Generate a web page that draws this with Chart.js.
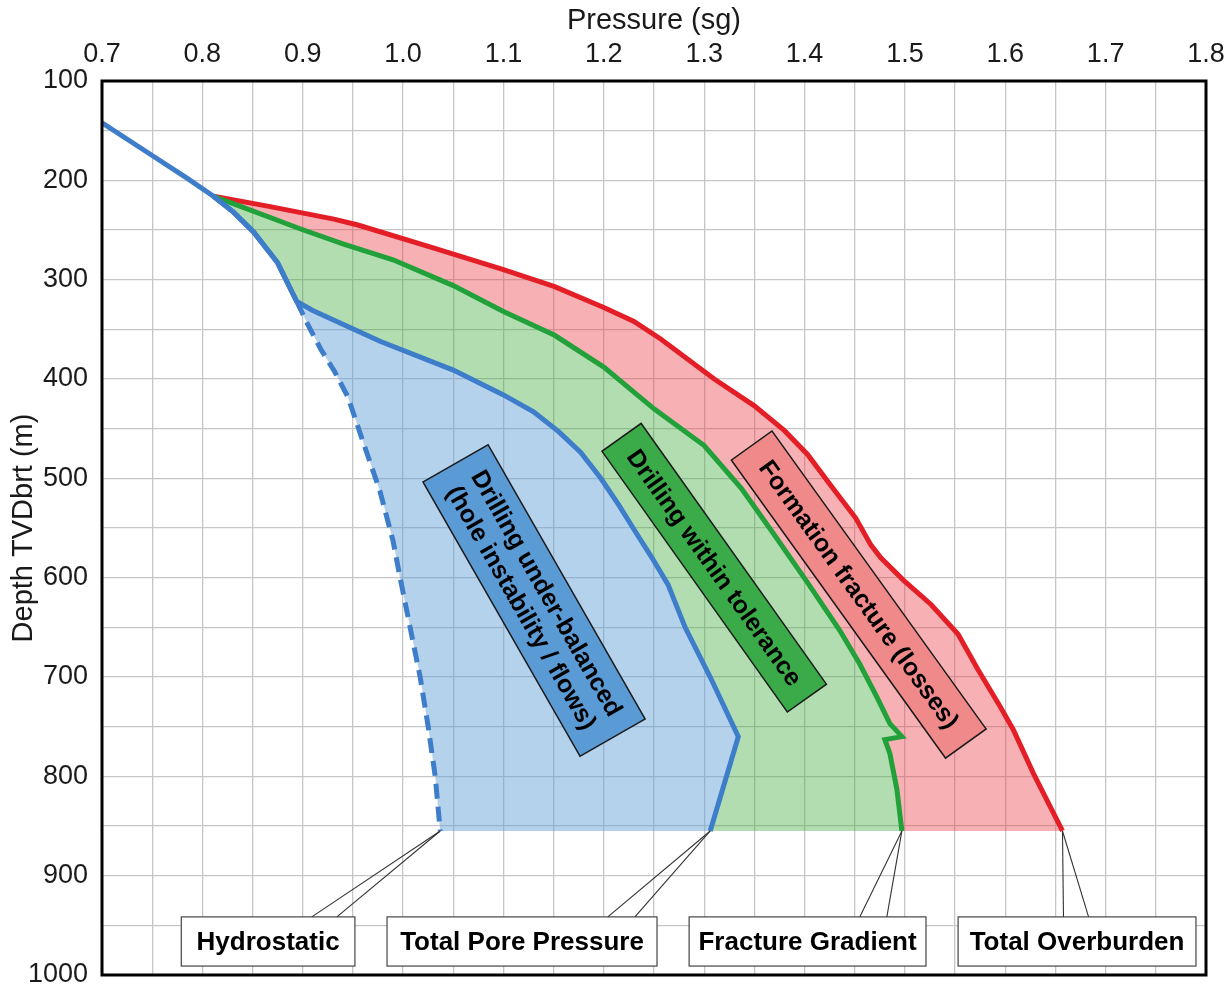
<!DOCTYPE html>
<html>
<head>
<meta charset="utf-8">
<title>Pressure window vs depth</title>
<script src="https://cdn.jsdelivr.net/npm/chart.js@4.4.0/dist/chart.umd.min.js"></script>
<style>
    html, body { margin: 0; padding: 0; background: #fff; }
    #wrap { width: 1231px; height: 989px; }
</style>
</head>
<body>
<div id="wrap"><canvas id="chartWindow" width="1231" height="989"></canvas></div>
<script>
// values: pressure in sg, depth TVDbrt in m

// hydrostatic (shared solid part on top, dashed below the branch depth)
const hydroPressure = [0.700, 0.750, 0.785, 0.811, 0.831, 0.851, 0.875, 0.894, 0.905, 0.918, 0.932, 0.945, 0.960, 0.977, 0.990, 0.997, 1.007, 1.017, 1.025, 1.032, 1.037];
const hydroDepth    = [142, 175, 198, 216, 232, 252, 283, 322, 345, 370, 393, 418, 463, 513, 563, 600, 650, 700, 750, 800, 855];
const branchDepth = 322;

const porePressure = [0.811, 0.831, 0.851, 0.875, 0.894, 0.910, 0.977, 1.050, 1.100, 1.130, 1.155, 1.177, 1.197, 1.215, 1.231, 1.248, 1.264, 1.281, 1.306, 1.334, 1.306];
const poreDepth    = [216, 232, 252, 283, 322, 331, 362, 391, 416, 433, 453, 474, 500, 527, 553, 580, 607, 650, 700, 760, 855];

const fracPressure = [0.811, 0.840, 0.898, 0.940, 0.990, 1.050, 1.100, 1.151, 1.200, 1.250, 1.300, 1.337, 1.370, 1.403, 1.435, 1.455, 1.472, 1.485, 1.497, 1.480, 1.485, 1.492, 1.497];
const fracDepth    = [216, 227, 249, 264, 280, 306, 332, 356, 388, 430, 467, 510, 557, 605, 653, 687, 720, 747, 760, 763, 777, 813, 855];

const obPressure = [0.811, 0.865, 0.931, 0.955, 1.030, 1.100, 1.151, 1.200, 1.230, 1.257, 1.310, 1.350, 1.380, 1.403, 1.426, 1.451, 1.466, 1.476, 1.499, 1.526, 1.553, 1.573, 1.595, 1.608, 1.628, 1.657];
const obDepth    = [216, 226, 239, 245, 268, 290, 307, 328, 342, 360, 400, 427, 452, 476, 507, 540, 567, 580, 603, 627, 657, 693, 730, 753, 797, 855];

const seriesNames = ['Hydrostatic', 'Total Pore Pressure', 'Fracture Gradient', 'Total Overburden'];
const zoneTexts = [
    ['Drilling under-balanced', '(hole instability / flows)'],
    ['Drilling within tolerance'],
    ['Formation fracture (losses)']
];

const FONT = '"Liberation Sans", Arial, sans-serif';
const BLUE = '#3d7dc9';
const GREEN = '#22a13a';
const RED = '#e41e26';

const pts = (xs, ys) => xs.map((x, i) => ({ x: x, y: ys[i] }));
const lastPt = (xs, ys) => ({ p: xs[xs.length - 1], d: ys[ys.length - 1] });

// rotated zone labels (centre in data units, size in px)
const zoneBoxes = [
    { lines: zoneTexts[0], p: 1.1305, d: 623, angle: 60.2, w: 316, h: 75, fill: '#5b9bd5' },
    { lines: zoneTexts[1], p: 1.310, d: 590, angle: 54.6, w: 320, h: 48, fill: '#3aab48' },
    { lines: zoneTexts[2], p: 1.454, d: 617, angle: 54.3, w: 367, h: 50, fill: '#f08a8a' }
];

// callouts under the curves
const callouts = [
    { text: seriesNames[0], p0: 0.779, p1: 0.952, legs: [0.909, 0.934], tip: lastPt(hydroPressure, hydroDepth) },
    { text: seriesNames[1], p0: 0.984, p1: 1.253, legs: [1.204, 1.231], tip: lastPt(porePressure, poreDepth) },
    { text: seriesNames[2], p0: 1.285, p1: 1.521, legs: [1.455, 1.482], tip: lastPt(fracPressure, fracDepth) },
    { text: seriesNames[3], p0: 1.553, p1: 1.790, legs: [1.658, 1.683], tip: lastPt(obPressure, obDepth) }
];
const calloutTop = 941.5, calloutBottom = 991;

const annotationPlugin = {
    id: 'annotationPlugin',
    afterDatasetsDraw(chart) {
        const { ctx, scales: { x, y } } = chart;

        zoneBoxes.forEach(z => {
            ctx.save();
            ctx.translate(x.getPixelForValue(z.p), y.getPixelForValue(z.d));
            ctx.rotate(z.angle * Math.PI / 180);
            ctx.fillStyle = z.fill;
            ctx.fillRect(-z.w / 2, -z.h / 2, z.w, z.h);
            ctx.strokeStyle = '#1a1a1a';
            ctx.lineWidth = 1.5;
            ctx.strokeRect(-z.w / 2, -z.h / 2, z.w, z.h);
            ctx.fillStyle = '#000';
            ctx.font = 'bold 25px ' + FONT;
            ctx.textAlign = 'center';
            ctx.textBaseline = 'middle';
            const lh = 29;
            z.lines.forEach((t, i) => {
                ctx.fillText(t, 0, (i - (z.lines.length - 1) / 2) * lh + 1);
            });
            ctx.restore();
        });

        callouts.forEach(c => {
            const left = x.getPixelForValue(c.p0);
            const right = x.getPixelForValue(c.p1);
            const top = y.getPixelForValue(calloutTop);
            const bottom = y.getPixelForValue(calloutBottom);
            const tx = x.getPixelForValue(c.tip.p);
            const ty = y.getPixelForValue(c.tip.d);

            ctx.save();
            ctx.fillStyle = '#fff';
            ctx.fillRect(left, top, right - left, bottom - top);
            ctx.strokeStyle = '#444';
            ctx.lineWidth = 1.2;
            ctx.strokeRect(left, top, right - left, bottom - top);

            ctx.strokeStyle = '#333';
            ctx.lineWidth = 1.1;
            c.legs.forEach(l => {
                ctx.beginPath();
                ctx.moveTo(x.getPixelForValue(l), top);
                ctx.lineTo(tx, ty);
                ctx.stroke();
            });

            ctx.fillStyle = '#000';
            ctx.font = 'bold 26px ' + FONT;
            ctx.textAlign = 'center';
            ctx.textBaseline = 'middle';
            ctx.fillText(c.text, (left + right) / 2, (top + bottom) / 2 + 1);
            ctx.restore();
        });
    },
    afterDraw(chart) {
        const { ctx, chartArea: a } = chart;
        ctx.save();
        ctx.strokeStyle = '#000';
        ctx.lineWidth = 3;
        ctx.strokeRect(a.left, a.top, a.right - a.left, a.bottom - a.top);
        ctx.restore();
    }
};

const ctx = document.getElementById('chartWindow').getContext('2d');

new Chart(ctx, {
    type: 'line',
    data: {
        datasets: [
            {
                label: seriesNames[0],
                data: pts(hydroPressure, hydroDepth),
                borderColor: BLUE,
                borderWidth: 5,
                fill: false,
                segment: {
                    borderDash: (c) => c.p0.parsed.y >= branchDepth ? [15, 8] : undefined
                }
            },
            {
                label: seriesNames[1],
                data: pts(porePressure, poreDepth),
                borderColor: BLUE,
                borderWidth: 5,
                backgroundColor: 'rgba(91,155,213,0.45)',
                fill: 0
            },
            {
                label: seriesNames[2],
                data: pts(fracPressure, fracDepth),
                borderColor: GREEN,
                borderWidth: 5,
                backgroundColor: 'rgba(60,170,60,0.4)',
                fill: 1
            },
            {
                label: seriesNames[3],
                data: pts(obPressure, obDepth),
                borderColor: RED,
                borderWidth: 5,
                backgroundColor: 'rgba(235,60,70,0.4)',
                fill: 2
            }
        ]
    },
    options: {
        indexAxis: 'y',
        responsive: false,
        animation: false,
        layout: { padding: 0 },
        elements: { point: { radius: 0, hoverRadius: 0 }, line: { tension: 0 } },
        plugins: {
            legend: { display: false },
            tooltip: { enabled: false },
            filler: { drawTime: 'beforeDatasetsDraw' }
        },
        scales: {
            x: {
                type: 'linear',
                position: 'top',
                min: 0.7,
                max: 1.8,
                ticks: {
                    stepSize: 0.05,
                    autoSkip: false,
                    maxRotation: 0,
                    padding: 10,
                    color: '#1a1a1a',
                    font: { family: FONT, size: 27 },
                    callback: (v) => Math.round(v * 100) % 10 === 0 ? v.toFixed(1) : ''
                },
                grid: { color: '#c6c6c6', lineWidth: 1.3, drawTicks: false },
                border: { display: false },
                title: {
                    display: true,
                    text: 'Pressure (sg)',
                    color: '#1a1a1a',
                    font: { family: FONT, size: 29 },
                    padding: { top: 4, bottom: 0 }
                },
                afterFit: (s) => {
                    s.height = 81;
                    s.paddingLeft = 0;
                    s.paddingRight = 25;
                }
            },
            y: {
                type: 'linear',
                reverse: true,
                min: 100,
                max: 1000,
                ticks: {
                    stepSize: 50,
                    autoSkip: false,
                    padding: 14,
                    color: '#1a1a1a',
                    font: { family: FONT, size: 27 },
                    callback: (v) => v % 100 === 0 ? String(v) : ''
                },
                grid: { color: '#c6c6c6', lineWidth: 1.3, drawTicks: false },
                border: { display: false },
                title: {
                    display: true,
                    text: 'Depth TVDbrt (m)',
                    color: '#1a1a1a',
                    font: { family: FONT, size: 29 },
                    padding: { top: 7, bottom: 0 }
                },
                afterFit: (s) => {
                    s.width = 102;
                    s.paddingTop = 0;
                    s.paddingBottom = 14;
                }
            }
        }
    },
    plugins: [annotationPlugin]
});
</script>
</body>
</html>
